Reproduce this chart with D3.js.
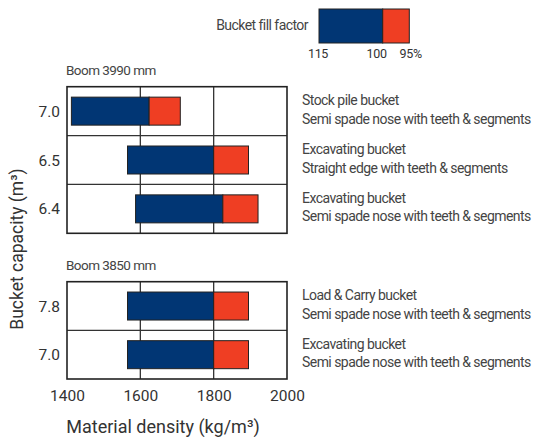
<!DOCTYPE html>
<html><head><meta charset="utf-8">
<script src="https://cdn.jsdelivr.net/npm/d3@7"></script>
<style>body{margin:0;background:#fff}svg{display:block}</style>
</head><body>
<script>
// Data
const boomLabels = ["Boom 3990 mm", "Boom 3850 mm"];
const capacities1 = ["7.0", "6.5", "6.4"];
const capacities2 = ["7.8", "7.0"];
// densities (kg/m3) at 115%, 100%, 95% fill factor
const d115_1 = [1412, 1565, 1587];
const d100_1 = [1624, 1800, 1825];
const d95_1  = [1709, 1895, 1921];
const d115_2 = [1565, 1565];
const d100_2 = [1800, 1800];
const d95_2  = [1895, 1895];
const titles1 = ["Stock pile bucket", "Excavating bucket", "Excavating bucket"];
const subs1 = ["Semi spade nose with teeth & segments", "Straight edge with teeth & segments", "Semi spade nose with teeth & segments"];
const titles2 = ["Load & Carry bucket", "Excavating bucket"];
const subs2 = ["Semi spade nose with teeth & segments", "Semi spade nose with teeth & segments"];
const xTicks = [1400, 1600, 1800, 2000];
const gridVals = [1600, 1800];
const legendLabels = ["115", "100", "95%"];

const W = 536, H = 437;
const BLUE = "#013674", RED = "#ef3e23";
const svg = d3.select("body").append("svg").attr("width", W).attr("height", H);
const font = "Roboto, 'Liberation Sans', sans-serif";
const x = d3.scaleLinear().domain([1400, 2000]).range([67, 287]);

function panel(cats, a, b, c, titles, subs, y0, y1, boom) {
  const y = d3.scaleBand().domain(cats).range([y0, y1]).padding(0);
  const g = svg.append("g");
  const barH = 28;
  // grid
  g.selectAll("line.grid").data(gridVals).join("line")
    .attr("x1", d => x(d)).attr("x2", d => x(d)).attr("y1", y0).attr("y2", y1)
    .attr("stroke", "#333").attr("stroke-width", 1.3);
  // row dividers
  g.selectAll("line.div").data(cats.slice(1)).join("line")
    .attr("x1", x(1400)).attr("x2", x(2000)).attr("y1", d => y(d)).attr("y2", d => y(d))
    .attr("stroke", "#333").attr("stroke-width", 1.3);
  // bars
  cats.forEach((cat, i) => {
    const yy = y(cat) + (y.bandwidth() - barH) / 2;
    g.append("rect").attr("x", x(a[i])).attr("y", yy).attr("width", x(b[i]) - x(a[i])).attr("height", barH)
      .attr("fill", BLUE).attr("stroke", "#222").attr("stroke-width", 1);
    g.append("rect").attr("x", x(b[i])).attr("y", yy).attr("width", x(c[i]) - x(b[i])).attr("height", barH)
      .attr("fill", RED).attr("stroke", "#222").attr("stroke-width", 1);
    const cy = y(cat) + y.bandwidth() / 2;
    g.append("text").attr("x", 60).attr("y", cy).attr("dy", "0.36em").attr("text-anchor", "end")
      .attr("font-family", font).attr("font-size", 15.5).attr("fill", "#333").text(cat);
    g.append("text").attr("x", 302).attr("y", cy - 11).attr("dy", "0.36em")
      .attr("font-family", font).attr("font-size", 14).attr("letter-spacing", -0.55).attr("fill", "#444").text(titles[i]);
    g.append("text").attr("x", 302).attr("y", cy + 7.5).attr("dy", "0.36em")
      .attr("font-family", font).attr("font-size", 14).attr("letter-spacing", -0.55).attr("fill", "#444").text(subs[i]);
  });
  // border
  g.append("rect").attr("x", x(1400)).attr("y", y0).attr("width", x(2000) - x(1400)).attr("height", y1 - y0)
    .attr("fill", "none").attr("stroke", "#222").attr("stroke-width", 1.6);
  g.append("text").attr("x", 66).attr("y", y0 - 16.5).attr("dy", "0.36em")
    .attr("font-family", font).attr("font-size", 13.5).attr("letter-spacing", -0.55).attr("fill", "#444").text(boom);
  return y;
}

panel(capacities1, d115_1, d100_1, d95_1, titles1, subs1, 86.7, 233.3, boomLabels[0]);
panel(capacities2, d115_2, d100_2, d95_2, titles2, subs2, 281.7, 379, boomLabels[1]);

// x axis
const ax = svg.append("g").attr("transform", "translate(0,387)")
  .call(d3.axisBottom(x).tickValues(xTicks).tickSize(0).tickFormat(d3.format("d")));
ax.select(".domain").remove();
ax.selectAll("text").attr("font-family", font).attr("font-size", 15.5).attr("fill", "#333");

svg.append("text").attr("x", 163).attr("y", 427).attr("dy", "0.36em").attr("text-anchor", "middle")
  .attr("font-family", font).attr("font-size", 18).attr("fill", "#333").text("Material density (kg/m³)");
svg.append("text").attr("transform", "translate(17,249) rotate(-90)").attr("dy", "0.36em").attr("text-anchor", "middle")
  .attr("font-family", font).attr("font-size", 17.5).attr("fill", "#333").text("Bucket capacity (m³)");

// legend
const lx = d3.scaleLinear().domain([0, 1, 2]).range([319, 382.7, 409.3]);
svg.append("rect").attr("x", lx(0)).attr("y", 9).attr("width", lx(1) - lx(0)).attr("height", 34)
  .attr("fill", BLUE).attr("stroke", "#222").attr("stroke-width", 1);
svg.append("rect").attr("x", lx(1)).attr("y", 9).attr("width", lx(2) - lx(1)).attr("height", 34)
  .attr("fill", RED).attr("stroke", "#222").attr("stroke-width", 1);
svg.append("text").attr("x", 308).attr("y", 25).attr("dy", "0.36em").attr("text-anchor", "end")
  .attr("font-family", font).attr("font-size", 14).attr("letter-spacing", -0.55).attr("fill", "#444").text("Bucket fill factor");
const legPos = [318, 376.7, 410.7];
svg.selectAll("text.leg").data(legendLabels).join("text")
  .attr("x", (d, i) => legPos[i]).attr("y", 53.5).attr("dy", "0.36em").attr("text-anchor", "middle")
  .attr("font-family", font).attr("font-size", 12.5).attr("letter-spacing", -0.3).attr("fill", "#333").text(d => d);
</script>
</body></html>
